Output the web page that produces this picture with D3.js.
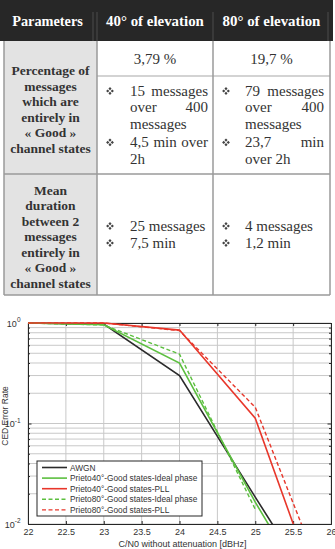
<!DOCTYPE html>
<html>
<head>
<meta charset="utf-8">
<script src="https://cdn.jsdelivr.net/npm/d3@7"></script>
<style>
  body { margin: 0; background: #fff; }
  svg { display: block; }
  .serif { font-family: "Liberation Serif", "Times New Roman", serif; }
  .sans { font-family: "Liberation Sans", Arial, sans-serif; }
</style>
</head>
<body>
<svg id="page"></svg>
<script>
// ---- table content ----
const headers = ['Parameters', '40° of elevation', '80° of elevation'];
const rowLabels = [
	['Percentage of', 'messages', 'which are', 'entirely in', '« Good »', 'channel states'],
	['Mean', 'duration', 'between 2', 'messages', 'entirely in', '« Good »', 'channel states'],
];
const percentages = ['3,79 %', '19,7 %'];
// each bullet is a list of lines, each line a list of words
const goodBullets = [
	[
		[['15', 'messages'], ['over', '400'], ['messages']],
		[['4,5', 'min', 'over'], ['2h']],
	],
	[
		[['79', 'messages'], ['over', '400'], ['messages']],
		[['23,7', 'min'], ['over', '2h']],
	],
];
const meanBullets = [
	['25 messages', '7,5 min'],
	['4 messages', '1,2 min'],
];

// ---- chart data ----
const cn0 = [22, 23, 24, 25, 26];
const awgn = [1, 0.975, 0.3, 0.0185, 0.0012];
const prieto40Ideal = [1, 0.96, 0.4, 0.0165, 0.0009];
const prieto40Pll = [1, 1, 0.85, 0.113, 0.0009];
const prieto80Ideal = [1, 0.955, 0.49, 0.014, null];
const prieto80Pll = [1, 1, 0.84, 0.145, 0.0018];
const seriesNames = [
	'AWGN',
	'Prieto40°-Good states-Ideal phase',
	'Prieto40°-Good states-PLL',
	'Prieto80°-Good states-Ideal phase',
	'Prieto80°-Good states-PLL',
];
const xTicks = [22, 22.5, 23, 23.5, 24, 24.5, 25, 25.5, 26];

const W = 335, H = 549;
const svg = d3.select('#page').attr('width', W).attr('height', H);

// ================= TABLE =================
const colX = [4, 97, 213, 330];
const rowY = [0, 41, 76, 174, 295];
const borderColor = '#9a9a9a';
const ink = '#333';

const table = svg.append('g').attr('class', 'serif');

// header band
table.append('rect')
	.attr('x', 0).attr('y', 0)
	.attr('width', 333).attr('height', rowY[1])
	.attr('fill', '#272727');
[93, 97, 213, 328].forEach((x) => {
	table.append('line')
		.attr('x1', x).attr('x2', x)
		.attr('y1', 12).attr('y2', rowY[1])
		.attr('stroke', '#555').attr('stroke-width', 0.8);
});
table.selectAll('.hdr')
	.data(headers)
	.join('text')
	.attr('class', 'hdr')
	.attr('x', (d, i) => (colX[i] + colX[i + 1]) / 2 - (i === 0 ? 3 : 0))
	.attr('y', 26)
	.attr('text-anchor', 'middle')
	.attr('font-weight', 'bold')
	.attr('font-size', (d, i) => (i === 0 ? 14.3 : 14.9))
	.attr('fill', '#fff')
	.text((d) => d);

// label column background
table.append('rect')
	.attr('x', colX[0]).attr('y', rowY[1])
	.attr('width', colX[1] - colX[0]).attr('height', rowY[4] - rowY[1])
	.attr('fill', '#e3e3e3');

// borders
const hLines = [
	{ y: rowY[2], x1: colX[1], x2: colX[3], c: '#c4c4c4' },
	{ y: rowY[3], x1: colX[0], x2: colX[3], c: borderColor },
	{ y: rowY[4], x1: colX[0], x2: colX[3], c: borderColor },
];
table.selectAll('.hline')
	.data(hLines)
	.join('line')
	.attr('class', 'hline')
	.attr('x1', (d) => d.x1).attr('x2', (d) => d.x2)
	.attr('y1', (d) => d.y).attr('y2', (d) => d.y)
	.attr('stroke', (d) => d.c)
	.attr('stroke-width', 1.5);
table.selectAll('.vline')
	.data(colX)
	.join('line')
	.attr('class', 'vline')
	.attr('x1', (d) => d).attr('x2', (d) => d)
	.attr('y1', rowY[1]).attr('y2', rowY[4])
	.attr('stroke', borderColor)
	.attr('stroke-width', 1.5);

// row labels (bold, centred)
const labelLh = 15.5;
rowLabels.forEach((lines, r) => {
	const top = r === 0 ? rowY[1] : rowY[3];
	const bottom = r === 0 ? rowY[3] : rowY[4];
	const mid = (top + bottom) / 2 + 1.5;
	table.selectAll(`.lbl${r}`)
		.data(lines)
		.join('text')
		.attr('class', `lbl${r}`)
		.attr('x', (colX[0] + colX[1]) / 2)
		.attr('y', (d, i) => mid - ((lines.length - 1) * labelLh) / 2 + i * labelLh + 5)
		.attr('text-anchor', 'middle')
		.attr('font-weight', 'bold')
		.attr('font-size', 13.5)
		.attr('fill', ink)
		.text((d) => d);
});

// percentages
table.selectAll('.pct')
	.data(percentages)
	.join('text')
	.attr('class', 'pct')
	.attr('x', (d, i) => (colX[i + 1] + colX[i + 2]) / 2)
	.attr('y', 64)
	.attr('text-anchor', 'middle')
	.attr('font-size', 15)
	.attr('fill', ink)
	.text((d) => d);

// bullet text boxes per value column
const textBox = [
	{ bullet: 110, left: 130, right: 208 },
	{ bullet: 226, left: 245, right: 324 },
];
const bodyLh = 16.3;

// wingdings-like four-diamond bullet
const diamond = (cx, cy, r) =>
	`M${cx},${cy - r}L${cx + r},${cy}L${cx},${cy + r}L${cx - r},${cy}Z`;
function bullet(x, y) {
	const cy = y - 5;
	const off = 2.3, r = 1.6;
	table.append('path')
		.attr('d', [
			diamond(x, cy - off, r),
			diamond(x + off, cy, r),
			diamond(x, cy + off, r),
			diamond(x - off, cy, r),
		].join(''))
		.attr('fill', '#444');
}

// justified lines: spread words to fill the box, last line of a paragraph flush left
goodBullets.forEach((paras, c) => {
	const box = textBox[c];
	let line = 0;
	paras.forEach((para, p) => {
		para.forEach((words, li) => {
			const y = rowY[2] + 20 + line * bodyLh + p * 2.5;
			if (li === 0) bullet(box.bullet, y);
			const last = li === para.length - 1;
			const nodes = words.map((w) =>
				table.append('text')
					.attr('y', y)
					.attr('font-size', 15)
					.attr('fill', ink)
					.text(w)
			);
			const widths = nodes.map((n) => n.node().getComputedTextLength());
			const total = d3.sum(widths);
			const space = 3.75;
			const gap = !last && words.length > 1
				? (box.right - box.left - total) / (words.length - 1)
				: space;
			let x = box.left;
			nodes.forEach((n, k) => {
				n.attr('x', x);
				x += widths[k] + gap;
			});
			line++;
		});
	});
});

// mean duration bullets, vertically centred in their row
meanBullets.forEach((lines, c) => {
	const box = textBox[c];
	const mid = (rowY[3] + rowY[4]) / 2;
	lines.forEach((t, i) => {
		const y = mid - ((lines.length - 1) * 17) / 2 + i * 17 + 5;
		bullet(box.bullet, y);
		table.append('text')
			.attr('x', box.left).attr('y', y)
			.attr('font-size', 15)
			.attr('fill', ink)
			.text(t);
	});
});

// ================= CHART =================
const plot = { left: 28, right: 331, top: 323, bottom: 524 };

const x = d3.scaleLinear().domain([22, 26]).range([plot.left, plot.right]);
const y = d3.scaleLog().domain([0.01, 1]).range([plot.bottom, plot.top]);

const chart = svg.append('g').attr('class', 'sans');

chart.append('rect')
	.attr('x', plot.left).attr('y', plot.top)
	.attr('width', plot.right - plot.left).attr('height', plot.bottom - plot.top)
	.attr('fill', '#fff');

// grid
const yGrid = y.ticks();
chart.append('g')
	.selectAll('line')
	.data(yGrid)
	.join('line')
	.attr('x1', plot.left).attr('x2', plot.right)
	.attr('y1', (d) => y(d)).attr('y2', (d) => y(d))
	.attr('stroke', '#c8c8c8').attr('stroke-width', 1);
chart.append('g')
	.selectAll('line')
	.data(xTicks)
	.join('line')
	.attr('x1', (d) => x(d)).attr('x2', (d) => x(d))
	.attr('y1', plot.top).attr('y2', plot.bottom)
	.attr('stroke', '#c8c8c8').attr('stroke-width', 1);

// axes (ticks pointing in, MATLAB style)
const isDecade = (d) => Math.abs(Math.log10(d) - Math.round(Math.log10(d))) < 1e-9;
const axisColor = '#262626';

const xAxisB = d3.axisBottom(x).tickValues(xTicks).tickSize(-3).tickPadding(5)
	.tickFormat(d3.format('~g'));
const xAxisT = d3.axisTop(x).tickValues(xTicks).tickSize(-3).tickFormat('');
const yAxisL = d3.axisLeft(y).tickValues(yGrid).tickSize(-3).tickFormat('');
const yAxisR = d3.axisRight(y).tickValues(yGrid).tickSize(-3).tickFormat('');

chart.append('g').attr('transform', `translate(0,${plot.bottom})`).call(xAxisB)
	.call((g) => g.selectAll('text').attr('font-size', 9).attr('fill', ink)
		.attr('font-family', '"Liberation Sans", Arial, sans-serif'));
chart.append('g').attr('transform', `translate(0,${plot.top})`).call(xAxisT);
chart.append('g').attr('transform', `translate(${plot.left},0)`).call(yAxisL)
	.call((g) => g.selectAll('.tick line').attr('x2', (d) => (isDecade(d) ? 3.5 : 2)));
chart.append('g').attr('transform', `translate(${plot.right},0)`).call(yAxisR)
	.call((g) => g.selectAll('.tick line').attr('x2', (d) => (isDecade(d) ? -3.5 : -2)));
chart.selectAll('.domain').attr('stroke', axisColor).attr('stroke-width', 1);
chart.selectAll('.tick line').attr('stroke', axisColor);

// decade labels 10^n
const decades = yGrid.filter(isDecade);
const yLab = chart.append('g')
	.selectAll('text')
	.data(decades)
	.join('text')
	.attr('x', 20.5)
	.attr('y', (d) => y(d) + 3.5)
	.attr('text-anchor', 'end')
	.attr('font-size', 9)
	.attr('fill', ink);
yLab.append('tspan').text('10');
yLab.append('tspan')
	.attr('dy', -4.5)
	.attr('font-size', 6.5)
	.text((d) => Math.round(Math.log10(d)));

// axis titles
chart.append('text')
	.attr('x', (plot.left + plot.right) / 2 + 3)
	.attr('y', 546.5)
	.attr('text-anchor', 'middle')
	.attr('font-size', 9)
	.attr('fill', ink)
	.text('C/N0 without attenuation [dBHz]');
chart.append('text')
	.attr('transform', 'translate(8,416) rotate(-90)')
	.attr('text-anchor', 'middle')
	.attr('font-size', 8.5)
	.attr('fill', ink)
	.text('CED Error Rate');

// series lines
const series = [
	{ name: seriesNames[0], values: awgn, color: '#2b2b2b', dash: null, width: 1.6 },
	{ name: seriesNames[1], values: prieto40Ideal, color: '#5cbf3f', dash: null, width: 1.6 },
	{ name: seriesNames[2], values: prieto40Pll, color: '#e8372b', dash: null, width: 1.6 },
	{ name: seriesNames[3], values: prieto80Ideal, color: '#5cbf3f', dash: '4,2.5', width: 1.4 },
	{ name: seriesNames[4], values: prieto80Pll, color: '#e8372b', dash: '4,2.5', width: 1.4 },
];

svg.append('clipPath').attr('id', 'plotClip')
	.append('rect')
	.attr('x', plot.left).attr('y', plot.top - 1)
	.attr('width', plot.right - plot.left).attr('height', plot.bottom - plot.top + 1);

const line = d3.line()
	.defined((d) => d.v != null)
	.x((d) => x(d.x))
	.y((d) => y(d.v));

chart.append('g')
	.attr('clip-path', 'url(#plotClip)')
	.selectAll('path')
	.data(series)
	.join('path')
	.attr('d', (s) => line(cn0.map((c, i) => ({ x: c, v: s.values[i] }))))
	.attr('fill', 'none')
	.attr('stroke', (s) => s.color)
	.attr('stroke-width', (s) => s.width)
	.attr('stroke-dasharray', (s) => s.dash);

// legend
const legend = chart.append('g').attr('transform', 'translate(37,461)');
legend.append('rect')
	.attr('width', 165).attr('height', 55)
	.attr('fill', '#fff')
	.attr('stroke', axisColor).attr('stroke-width', 1);
const items = legend.selectAll('.item')
	.data(series)
	.join('g')
	.attr('class', 'item')
	.attr('transform', (d, i) => `translate(0,${6.5 + i * 10.6})`);
items.append('line')
	.attr('x1', 5).attr('x2', 30)
	.attr('stroke', (s) => s.color)
	.attr('stroke-width', (s) => s.width)
	.attr('stroke-dasharray', (s) => s.dash);
items.append('text')
	.attr('x', 33).attr('y', 3)
	.attr('font-size', 8.3)
	.attr('fill', ink)
	.text((s) => s.name);
</script>
</body>
</html>
